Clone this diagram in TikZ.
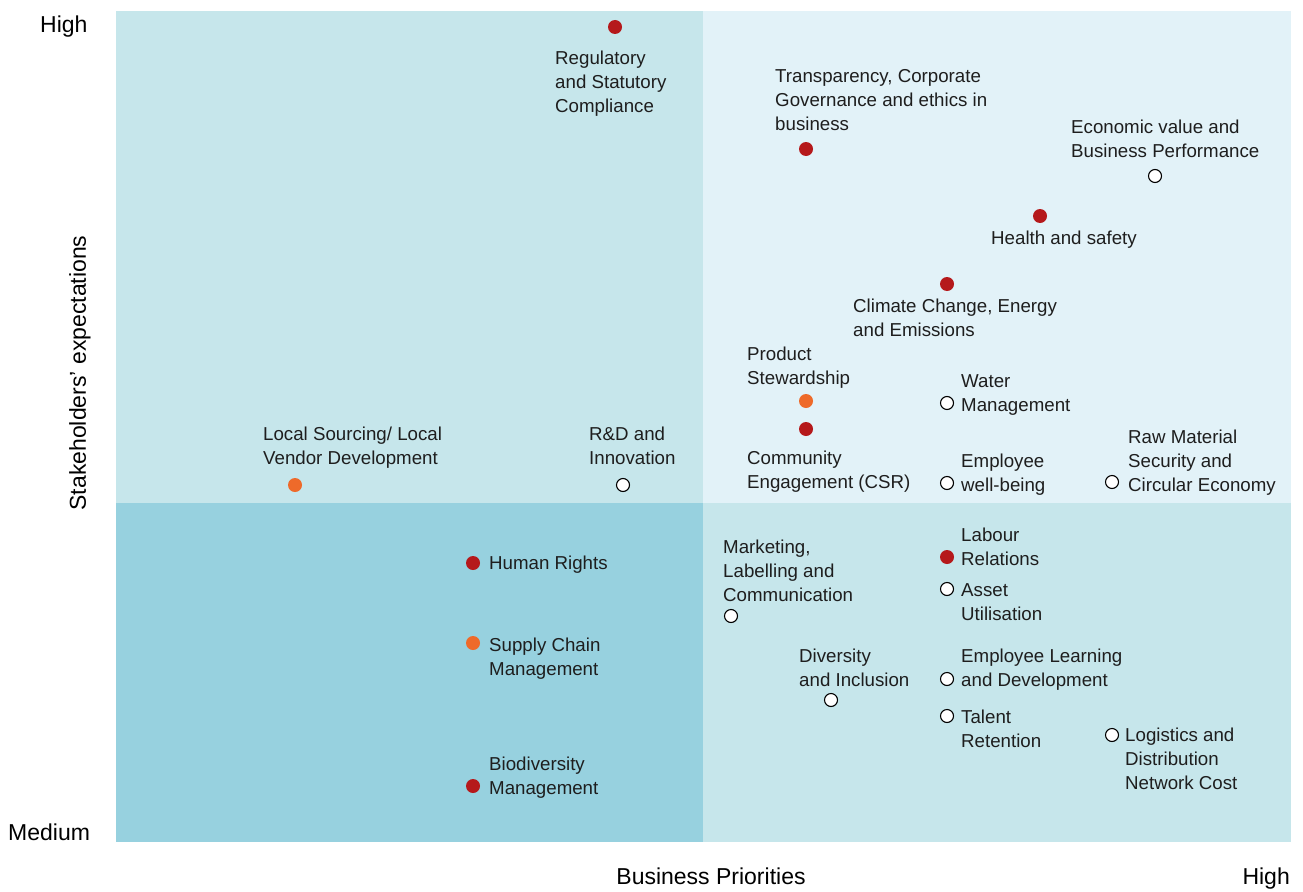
\documentclass[tikz,border=0pt]{standalone}
\usepackage{fontspec}
\setmainfont{Liberation Sans}
\usepackage{xcolor}
\definecolor{quadA}{HTML}{C6E6EB}
\definecolor{quadB}{HTML}{E2F2F8}
\definecolor{quadC}{HTML}{97D1DF}
\definecolor{dotred}{HTML}{B5191B}
\definecolor{dotorange}{HTML}{EE6A2A}
\definecolor{txt}{HTML}{1E1E1E}

\tikzset{
  reddot/.style={circle, fill=dotred, minimum size=14pt, inner sep=0pt},
  orangedot/.style={circle, fill=dotorange, minimum size=14pt, inner sep=0pt},
  opendot/.style={circle, draw=black, fill=white, line width=1.1pt, minimum size=13pt, inner sep=0pt},
  % base anchor of a multi-line label sits on its last line
  lbl/.style={anchor=base west, align=left, inner sep=0pt, text=txt,
    font=\fontsize{18.7}{24}\selectfont},
  axis/.style={inner sep=0pt, text=black, font=\fontsize{23}{28}\selectfont}
}

\begin{document}
\begin{tikzpicture}[x=1pt, y=-1pt]
  \useasboundingbox (0,0) rectangle (1303,891);

  % Quadrants
  \fill[quadA] (116,11) rectangle (703,503);
  \fill[quadB] (703,11) rectangle (1291,503);
  \fill[quadC] (116,503) rectangle (703,842);
  \fill[quadA] (703,503) rectangle (1291,842);

  % Axis labels
  \node[axis, anchor=base west] (yhigh) at (40,33) {High};
  \node[axis, anchor=base west] (ymed) at (8,840) {Medium};
  \node[axis, rotate=90] (ylabel) at (80,373) {Stakeholders’ expectations};
  \node[axis, anchor=base] (xlabel) at (711,884) {Business Priorities};
  \node[axis, anchor=base east] (xhigh) at (1290,884) {High};

  % Top left
  \node[reddot] (reg) at (615,27) {};
  \node[lbl] (regl) at (555,112) {Regulatory\\and Statutory\\Compliance};
  \node[lbl] (locl) at (263,464) {Local Sourcing/ Local\\Vendor Development};
  \node[orangedot] (loc) at (295,485) {};
  \node[lbl] (rndl) at (589,464) {R\&D and\\Innovation};
  \node[opendot] (rnd) at (623,485) {};

  % Top right
  \node[lbl] (tcgl) at (775,130) {Transparency, Corporate\\Governance and ethics in\\business};
  \node[reddot] (tcg) at (806,149) {};
  \node[lbl] (ecol) at (1071,157) {Economic value and\\Business Performance};
  \node[opendot] (eco) at (1155,176) {};
  \node[reddot] (hs) at (1040,216) {};
  \node[lbl] (hsl) at (991,244) {Health and safety};
  \node[reddot] (cce) at (947,284) {};
  \node[lbl] (ccel) at (853,336) {Climate Change, Energy\\and Emissions};
  \node[lbl] (prdl) at (747,384) {Product\\Stewardship};
  \node[orangedot] (prd) at (806,401) {};
  \node[reddot] (csr) at (806,429) {};
  \node[lbl] (csrl) at (747,488) {Community\\Engagement (CSR)};
  \node[opendot] (wat) at (947,403) {};
  \node[lbl] (watl) at (961,411) {Water\\Management};
  \node[opendot] (ewb) at (947,483) {};
  \node[lbl] (ewbl) at (961,491) {Employee\\well-being};
  \node[opendot] (raw) at (1112,482) {};
  \node[lbl] (rawl) at (1128,491) {Raw Material\\Security and\\Circular Economy};

  % Bottom left
  \node[reddot] (hr) at (473,563) {};
  \node[lbl] (hrl) at (489,569) {Human Rights};
  \node[orangedot] (scm) at (473,643) {};
  \node[lbl] (scml) at (489,675) {Supply Chain\\Management};
  \node[reddot] (bio) at (473,786) {};
  \node[lbl] (biol) at (489,794) {Biodiversity\\Management};

  % Bottom right
  \node[lbl] (mktl) at (723,601) {Marketing,\\Labelling and\\Communication};
  \node[opendot] (mkt) at (731,616) {};
  \node[reddot] (lab) at (947,557) {};
  \node[lbl] (labl) at (961,565) {Labour\\Relations};
  \node[opendot] (ast) at (947,589) {};
  \node[lbl] (astl) at (961,620) {Asset\\Utilisation};
  \node[lbl] (divl) at (799,686) {Diversity\\and Inclusion};
  \node[opendot] (div) at (831,700) {};
  \node[opendot] (eld) at (947,679) {};
  \node[lbl] (eldl) at (961,686) {Employee Learning\\and Development};
  \node[opendot] (tal) at (947,716) {};
  \node[lbl] (tall) at (961,747) {Talent\\Retention};
  \node[opendot] (log) at (1112,735) {};
  \node[lbl] (logl) at (1125,789) {Logistics and\\Distribution\\Network Cost};
\end{tikzpicture}
\end{document}
